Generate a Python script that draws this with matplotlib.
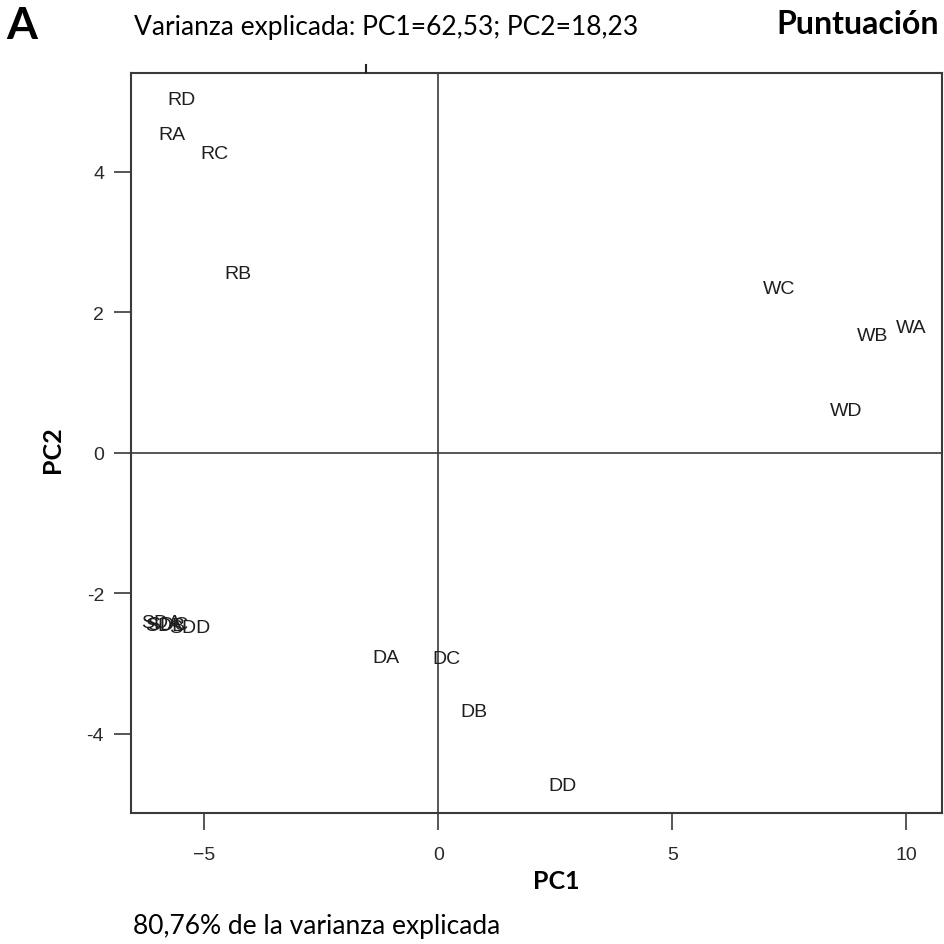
import matplotlib
matplotlib.use("Agg")
import matplotlib.pyplot as plt
from matplotlib.lines import Line2D

# PCA scores (PC1, PC2) for each sample
labels = ["RD", "RA", "RC", "RB", "WC", "WB", "WA", "WD",
          "SDA", "SDB", "SDC", "SDD", "DA", "DC", "DB", "DD"]
pc1 = [-5.50, -5.69, -4.78, -4.28, 7.28, 9.28, 10.10, 8.71,
       -5.93, -5.84, -5.78, -5.31, -1.12, 0.18, 0.76, 2.66]
pc2 = [5.03, 4.53, 4.26, 2.55, 2.34, 1.67, 1.78, 0.60,
       -2.41, -2.46, -2.45, -2.49, -2.92, -2.93, -3.68, -4.74]

xticks = [-5, 0, 5, 10]
xtick_labels = ["\u22125", "0", "5", "10"]
yticks = [-4, -2, 0, 2, 4]
ytick_labels = ["-4", "-2", "0", "2", "4"]
xlim = (-6.58, 10.76)
ylim = (-5.13, 5.41)

W, H = 944, 945
fig = plt.figure(figsize=(W / 100, H / 100), dpi=100)
ax = fig.add_axes([130.5 / W, 1 - 814 / H, (942 - 130.5) / W, (814 - 74) / H])

label_font = ["Liberation Sans", "DejaVu Sans"]
side_font = ["Lato", "DejaVu Sans"]
ink = "#1e1e1e"
line_c = "#3a3a3a"

for name, x, y in zip(labels, pc1, pc2):
    ax.text(x, y, name, ha="center", va="center", fontsize=14,
            family=label_font, color=ink)

ax.axhline(0, color=line_c, lw=1.2)
ax.axvline(0, color=line_c, lw=1.2)

ax.set_xlim(*xlim)
ax.set_ylim(*ylim)
ax.set_xticks(xticks)
ax.set_yticks(yticks)
ax.set_xticklabels(xtick_labels)
ax.set_yticklabels(ytick_labels)
for sp in ax.spines.values():
    sp.set_color(line_c)
    sp.set_linewidth(1.5)
ax.tick_params(axis="both", length=12, width=1.2, color=line_c,
               labelsize=14, labelcolor="#2a2a2a")
ax.tick_params(axis="x", pad=12)
ax.tick_params(axis="y", pad=7)
for t in ax.get_xticklabels() + ax.get_yticklabels():
    t.set_family(label_font)

# axis titles
fig.text(556 / W, 1 - 882 / H, "PC1", fontsize=18, fontweight="bold",
         family=side_font, ha="center", va="center")
fig.text(52 / W, 1 - 450 / H, "PC2", fontsize=18, fontweight="bold",
         family=side_font, ha="center", va="center", rotation=90)

# small mark left over above the frame
fig.add_artist(Line2D([366 / W, 366 / W], [1 - 73 / H, 1 - 66 / H],
                      color="#222222", lw=1.5))

fig.text(6 / W, 1 - 26 / H, "A", fontsize=32, fontweight="bold",
         family=side_font, ha="left", va="center")
fig.text(134 / W, 1 - 27 / H, "Varianza explicada: PC1=62,53; PC2=18,23",
         fontsize=19, family=side_font, ha="left", va="center")
fig.text(939 / W, 1 - 25 / H, "Puntuación", fontsize=23, fontweight="bold",
         family=side_font, ha="right", va="center")
fig.text(133 / W, 1 - 927 / H, "80,76% de la varianza explicada",
         fontsize=19, family=side_font, ha="left", va="center")

fig.savefig("out.png", dpi=100)
